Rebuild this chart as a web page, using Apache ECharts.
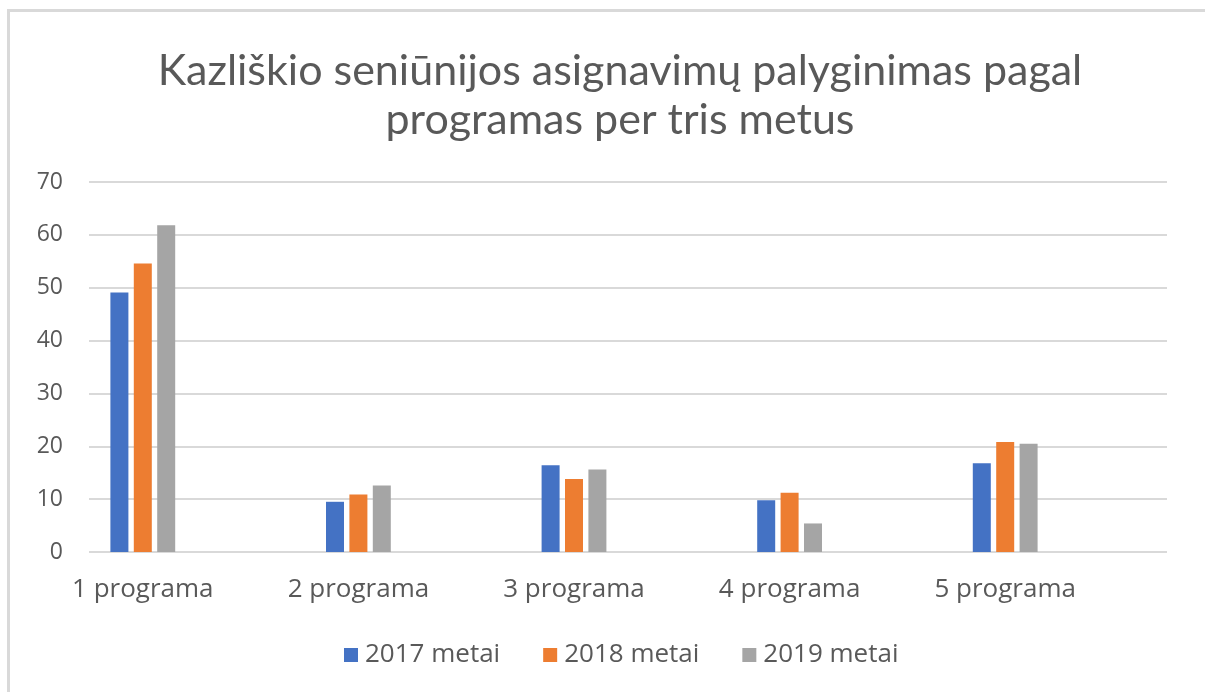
<!DOCTYPE html>
<html>
<head>
<meta charset="utf-8">
<script src="https://cdn.jsdelivr.net/npm/echarts@6/dist/echarts.min.js"></script>
<style>
  html, body { margin: 0; padding: 0; background: #fff; }
  #frame { position: absolute; left: 7px; top: 9px; width: 1198px; height: 683px;
           border-left: 3px solid #d9d9d9; border-top: 3px solid #d9d9d9; box-sizing: border-box; }
  #chart { position: absolute; left: 0; top: 0; width: 1205px; height: 692px; }
</style>
</head>
<body>
<div id="frame"></div>
<div id="chart"></div>
<script>
// duomenys
var categories = ['1 programa', '2 programa', '3 programa', '4 programa', '5 programa'];
var years = ['2017 metai', '2018 metai', '2019 metai'];
var values2017 = [49.1, 9.5, 16.4, 9.8, 16.8];
var values2018 = [54.6, 10.9, 13.8, 11.2, 20.8];
var values2019 = [61.8, 12.6, 15.6, 5.4, 20.5];
var yTicks = [0, 10, 20, 30, 40, 50, 60, 70];

var colors = ['#4472C4', '#ED7D31', '#A5A5A5'];
var textColor = '#595959';
var labelFont = '"Open Sans", "DejaVu Sans", sans-serif';

var chart = echarts.init(document.getElementById('chart'));

function barSeries(name, data, idx) {
    return {
        name: name,
        type: 'bar',
        xAxisIndex: 0,
        yAxisIndex: 0,
        data: data,
        barWidth: 18,
        barGap: '30%',
        itemStyle: { color: colors[idx] }
    };
}

var option = {
    animation: false,
    color: colors,
    title: {
        text: 'Kazliškio seniūnijos asignavimų palyginimas pagal\nprogramas per tris metus',
        left: 615,
        textAlign: 'center',
        top: 42,
        textStyle: {
            fontFamily: 'Lato, "Open Sans", sans-serif',
            fontWeight: 400,
            fontSize: 43,
            lineHeight: 49,
            color: textColor
        }
    },
    legend: {
        data: years,
        top: 637,
        left: 339,
        itemWidth: 14,
        itemHeight: 14,
        itemGap: 43,
        icon: 'rect',
        textStyle: { fontFamily: labelFont, fontSize: 26, color: textColor, padding: [0, 0, 0, 2] }
    },
    grid: [
        // bars and category labels
        { left: 35, width: 1078, top: 182, height: 370, containLabel: false },
        // gridlines and value labels
        { left: 89, width: 1078, top: 182, height: 370, containLabel: false }
    ],
    xAxis: [
        {
            type: 'category',
            gridIndex: 0,
            data: categories,
            axisLine: { show: false },
            axisTick: { show: false },
            axisLabel: { margin: 25, fontFamily: labelFont, fontSize: 26, color: textColor }
        },
        {
            type: 'category',
            gridIndex: 1,
            data: categories,
            show: false
        }
    ],
    yAxis: [
        {
            type: 'value',
            gridIndex: 0,
            min: yTicks[0],
            max: yTicks[yTicks.length - 1],
            interval: 10,
            show: false
        },
        {
            type: 'value',
            gridIndex: 1,
            min: yTicks[0],
            max: yTicks[yTicks.length - 1],
            interval: 10,
            axisLine: { show: false },
            axisTick: { show: false },
            axisLabel: { margin: 26, fontFamily: labelFont, fontSize: 23, color: textColor },
            splitLine: { lineStyle: { color: '#d9d9d9', width: 2 } }
        }
    ],
    series: [
        barSeries(years[0], values2017, 0),
        barSeries(years[1], values2018, 1),
        barSeries(years[2], values2019, 2)
    ]
};

chart.setOption(option);
</script>
</body>
</html>
